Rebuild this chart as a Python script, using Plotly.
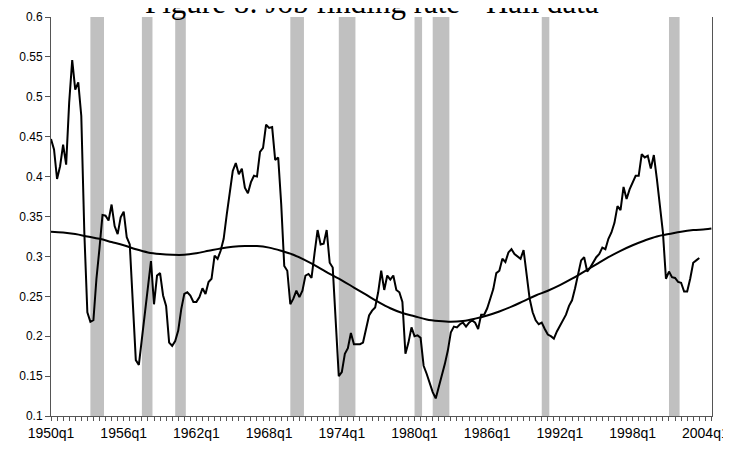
import plotly.graph_objects as go

# ---- data ----
start_year = 1950  # series start: 1950q1, quarterly
job_finding_rate = [
    0.447, 0.434, 0.397, 0.413, 0.440, 0.415, 0.493, 0.546, 0.509, 0.518,
    0.476, 0.330, 0.230, 0.218, 0.220, 0.272, 0.310, 0.352, 0.351, 0.345,
    0.365, 0.338, 0.328, 0.349, 0.356, 0.324, 0.315, 0.240, 0.170, 0.164,
    0.195, 0.228, 0.262, 0.294, 0.240, 0.276, 0.279, 0.251, 0.238, 0.192,
    0.188, 0.194, 0.207, 0.234, 0.253, 0.255, 0.251, 0.243, 0.243, 0.249,
    0.260, 0.253, 0.268, 0.272, 0.301, 0.297, 0.307, 0.322, 0.352, 0.379,
    0.407, 0.417, 0.403, 0.410, 0.386, 0.379, 0.393, 0.401, 0.400, 0.431,
    0.436, 0.465, 0.461, 0.462, 0.421, 0.424, 0.365, 0.288, 0.282, 0.240,
    0.247, 0.257, 0.249, 0.257, 0.276, 0.278, 0.273, 0.304, 0.333, 0.315,
    0.316, 0.333, 0.292, 0.286, 0.215, 0.150, 0.155, 0.178, 0.185, 0.204,
    0.190, 0.190, 0.190, 0.192, 0.209, 0.226, 0.232, 0.236, 0.255, 0.282,
    0.258, 0.276, 0.271, 0.276, 0.258, 0.255, 0.243, 0.178, 0.192, 0.211,
    0.200, 0.201, 0.198, 0.163, 0.153, 0.140, 0.130, 0.122, 0.136, 0.150,
    0.165, 0.182, 0.205, 0.212, 0.211, 0.215, 0.217, 0.212, 0.217, 0.220,
    0.217, 0.209, 0.227, 0.227, 0.235, 0.247, 0.259, 0.279, 0.282, 0.297,
    0.293, 0.305, 0.309, 0.303, 0.300, 0.297, 0.308, 0.276, 0.247, 0.230,
    0.220, 0.215, 0.217, 0.209, 0.202, 0.200, 0.197, 0.206, 0.213, 0.220,
    0.227, 0.238, 0.245, 0.260, 0.277, 0.295, 0.299, 0.281, 0.286, 0.292,
    0.299, 0.303, 0.311, 0.309, 0.322, 0.330, 0.342, 0.363, 0.358, 0.387,
    0.372, 0.384, 0.392, 0.401, 0.401, 0.428, 0.424, 0.426, 0.410, 0.427,
    0.397, 0.365, 0.330, 0.272, 0.281, 0.274, 0.273, 0.268, 0.267, 0.256,
    0.256, 0.272, 0.292, 0.295, 0.298,
]

trend_periods = [f"{y}q1" for y in range(1950, 2005)] + ["2004q3"]
trend_values = [
    0.331, 0.330, 0.328, 0.325, 0.322, 0.318, 0.314, 0.309, 0.305, 0.303,
    0.302, 0.302, 0.304, 0.307, 0.310, 0.312, 0.313, 0.313, 0.311, 0.307,
    0.302, 0.295, 0.287, 0.278, 0.270, 0.261, 0.252, 0.243, 0.235, 0.229,
    0.225, 0.221, 0.219, 0.218, 0.219, 0.222, 0.226, 0.231, 0.237, 0.244,
    0.251, 0.257, 0.264, 0.272, 0.281, 0.290, 0.299, 0.307, 0.314, 0.320,
    0.325, 0.328, 0.331, 0.333, 0.334, 0.335,
]

recession_start = ["1953q2", "1957q3", "1960q2", "1969q4", "1973q4",
                   "1980q1", "1981q3", "1990q3", "2001q1"]
recession_end = ["1954q2", "1958q2", "1961q1", "1970q4", "1975q1",
                 "1980q3", "1982q4", "1991q1", "2001q4"]

tick_labels = ["1950q1", "1956q1", "1962q1", "1968q1", "1974q1",
               "1980q1", "1986q1", "1992q1", "1998q1", "2004q1"]


def qidx(label):
    y, q = label.split("q")
    return (int(y) - start_year) * 4 + int(q) - 1


x_rate = list(range(len(job_finding_rate)))
x_trend = [qidx(p) for p in trend_periods]

fig = go.Figure()

for s, e in zip(recession_start, recession_end):
    fig.add_shape(type="rect", xref="x", yref="y",
                  x0=qidx(s), x1=qidx(e) + 0.5, y0=0.1, y1=0.6,
                  fillcolor="#c0c0c0", line=dict(width=0), layer="below")

fig.add_trace(go.Scatter(x=x_rate, y=job_finding_rate, mode="lines",
                         line=dict(color="black", width=2), showlegend=False))
fig.add_trace(go.Scatter(x=x_trend, y=trend_values, mode="lines",
                         line=dict(color="black", width=2, shape="spline"),
                         showlegend=False))

fig.add_annotation(text="Figure 8: Job finding rate - Hall data",
                   xref="paper", yref="paper", x=0.485, y=1.0363,
                   xanchor="center", yanchor="middle", showarrow=False,
                   font=dict(family="Liberation Serif", size=31, color="black"))

# page body adds an 8px offset; margins are set so the plot area lands
# at the reference position in the 731x449 window
fig.update_layout(
    width=731, height=449,
    margin=dict(l=43, r=27, t=9, b=41, autoexpand=False),
    paper_bgcolor="white", plot_bgcolor="white",
    font=dict(family="Liberation Sans, Arial", color="black"),
    xaxis=dict(range=[0, 218.2], showgrid=False, zeroline=False,
               automargin=False,
               showline=True, linecolor="#555", linewidth=1,
               tickmode="array", tickvals=[qidx(t) for t in tick_labels],
               ticktext=tick_labels, ticks="outside", ticklen=4,
               tickcolor="#555", tickfont=dict(size=14),
               minor=dict(dtick=2, tick0=0, ticks="outside", ticklen=4,
                          tickcolor="#555", showgrid=False)),
    yaxis=dict(range=[0.1, 0.6], dtick=0.05, tick0=0.1, showgrid=False,
               automargin=False,
               zeroline=False, showline=True, linecolor="#555", linewidth=1,
               mirror=True, ticks="outside", ticklen=5, tickcolor="#555",
               tickfont=dict(size=12)),
)

fig.write_html("out.html")
